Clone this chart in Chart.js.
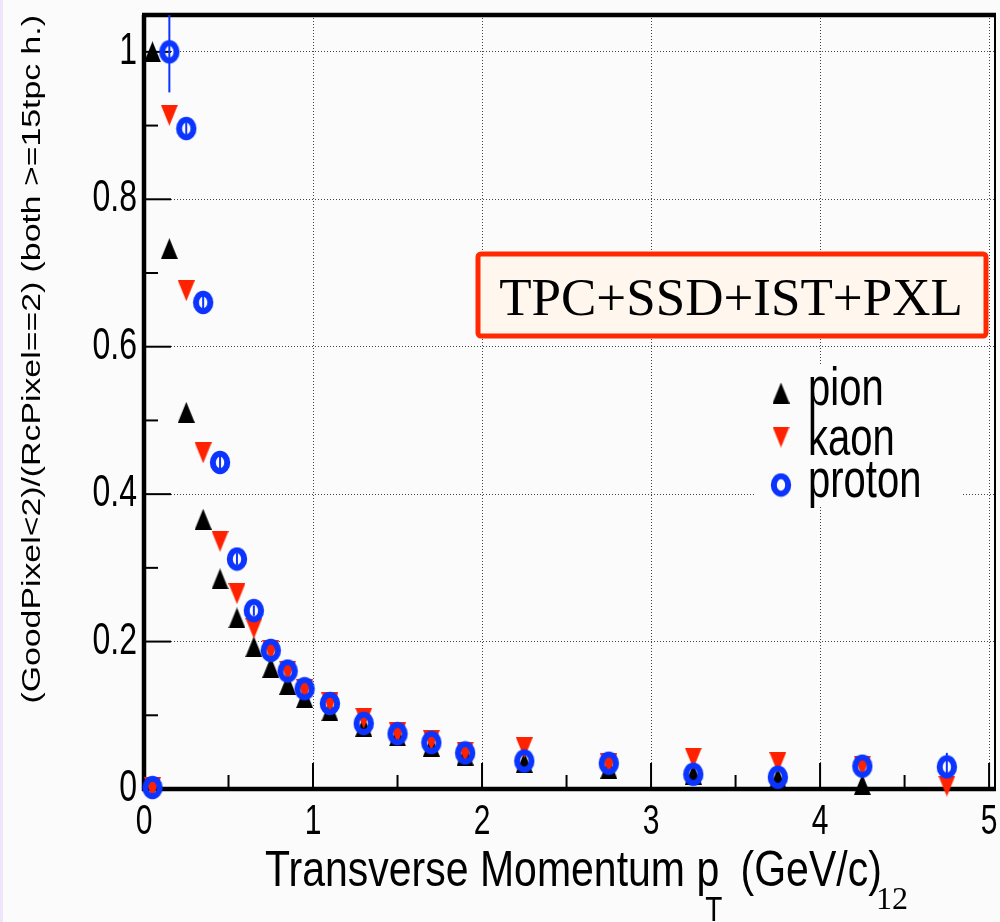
<!DOCTYPE html>
<html>
<head>
<meta charset="utf-8">
<script src="https://cdn.jsdelivr.net/npm/chart.js@4.4.1/dist/chart.umd.min.js"></script>
<style>
  html, body { margin: 0; padding: 0; background: #fbfbfb; }
</style>
</head>
<body>
<canvas id="ratioChart" width="1000" height="922"></canvas>
<script>
// pT bin centres (GeV/c)
const ptBins = [0.05, 0.15, 0.25, 0.35, 0.45, 0.55, 0.65, 0.75, 0.85, 0.95, 1.1, 1.3, 1.5, 1.7, 1.9, 2.25, 2.75, 3.25, 3.75, 4.25, 4.75];

// ratio values
const pionRatio   = [1.0, 0.733, 0.511, 0.366, 0.285, 0.232, 0.193, 0.165, 0.142, 0.124, 0.106, 0.085, 0.072, 0.058, 0.046, 0.036, 0.028, 0.020, 0.015, 0.006, null];
const kaonRatio   = [0.002, 0.914, 0.676, 0.456, 0.336, 0.265, 0.218, 0.188, 0.160, 0.135, 0.117, 0.096, 0.076, 0.066, 0.050, 0.056, 0.034, 0.042, 0.036, 0.031, 0.004];
const protonRatio = [0.002, 1.0, 0.896, 0.660, 0.443, 0.312, 0.242, 0.188, 0.160, 0.136, 0.116, 0.089, 0.075, 0.063, 0.049, 0.038, 0.035, 0.020, 0.016, 0.031, 0.030];
const protonErr   = [0.003, 0.055, 0.008, 0.010, 0.010, 0.008, 0.007, 0.006, 0.005, 0.005, 0.004, 0.004, 0.004, 0.004, 0.004, 0.005, 0.006, 0.008, 0.009, 0.012, 0.019];

// axis ticks
const xTicks = [0, 1, 2, 3, 4, 5];
const xTickLabels = ['0', '1', '2', '3', '4', '5'];
const xMinorTicks = [0.5, 1.5, 2.5, 3.5, 4.5];
const yTicks = [0, 0.2, 0.4, 0.6, 0.8, 1];
const yTickLabels = ['0', '0.2', '0.4', '0.6', '0.8', '1'];
const yMinorTicks = [0.1, 0.3, 0.5, 0.7, 0.9];

const seriesNames = ['pion', 'kaon', 'proton'];
const xTitle = 'Transverse Momentum p';
const xTitleSub = 'T';
const xTitleUnit = ' (GeV/c)';
const yTitle = '(GoodPixel<2)/(RcPixel==2) (both >=15tpc h.)';
const boxLabel = 'TPC+SSD+IST+PXL';
const slideNumber = '12';

const PION = '#000000';
const KAON = '#ff2200';
const PROTON = '#0b35ff';
const BG = '#fbfbfb';

const toPoints = (vals) => ptBins.map((x, i) => ({ x: x, y: vals[i] }));

// markers are a bit taller than wide in the original picture, so use small canvases
function makeMarker(kind, color) {
    const c = document.createElement('canvas');
    const w = kind === 'circle' ? 22 : 17;
    const h = kind === 'circle' ? 25 : 21;
    c.width = w;
    c.height = h;
    const g = c.getContext('2d');
    if (kind === 'circle') {
        g.strokeStyle = color;
        g.lineWidth = 6;
        g.beginPath();
        g.ellipse(w / 2, h / 2, 7.2, 8.8, 0, 0, Math.PI * 2);
        g.stroke();
    } else {
        g.fillStyle = color;
        g.beginPath();
        if (kind === 'up') {
            g.moveTo(w / 2, 0);
            g.lineTo(w, h);
            g.lineTo(0, h);
        } else {
            g.moveTo(0, 0);
            g.lineTo(w, 0);
            g.lineTo(w / 2, h);
        }
        g.closePath();
        g.fill();
    }
    return c;
}

const pionMarker = makeMarker('up', PION);
const kaonMarker = makeMarker('down', KAON);
const protonMarker = makeMarker('circle', PROTON);

// text with the vertical stretch of the original picture
function stretchText(ctx, s, x, y, size, sy, align, baseline, family) {
    ctx.save();
    ctx.translate(x, y);
    ctx.scale(1, sy);
    ctx.font = size + 'px ' + (family || '"Liberation Sans", Arial, sans-serif');
    ctx.textAlign = align;
    ctx.textBaseline = baseline;
    ctx.fillStyle = '#000';
    ctx.fillText(s, 0, 0);
    ctx.restore();
}

const rootStyle = {
    id: 'rootStyle',
    beforeDraw(chart) {
        const ctx = chart.ctx;
        ctx.save();
        ctx.fillStyle = BG;
        ctx.fillRect(0, 0, chart.width, chart.height);
        ctx.fillStyle = '#eee4fb';
        ctx.fillRect(0, 0, 3, chart.height);
        ctx.restore();
    },
    beforeDatasetsDraw(chart) {
        const ctx = chart.ctx;
        const a = chart.chartArea;
        const xs = chart.scales.x, ys = chart.scales.y;
        ctx.save();
        ctx.strokeStyle = '#000';
        ctx.lineWidth = 2;
        const seg = (x1, y1, x2, y2) => { ctx.beginPath(); ctx.moveTo(x1, y1); ctx.lineTo(x2, y2); ctx.stroke(); };
        yMinorTicks.forEach(v => { const p = ys.getPixelForValue(v); seg(a.left, p, a.left + 14, p); });
        yTicks.forEach(v => { const p = ys.getPixelForValue(v); seg(a.left, p, a.left + 27, p); });
        xMinorTicks.forEach(v => { const p = xs.getPixelForValue(v); seg(p, a.bottom, p, a.bottom - 14); });
        xTicks.forEach(v => { const p = xs.getPixelForValue(v); seg(p, a.bottom, p, a.bottom - 26); });

        // frame
        ctx.lineWidth = 2;
        seg(a.right, a.top, a.right, a.bottom);
        ctx.lineWidth = 4.5;
        seg(a.left - 2, a.top, a.right + 1, a.top);
        seg(a.left, a.top, a.left, a.bottom + 2);
        seg(a.left - 2, a.bottom, a.right + 1, a.bottom);

        // tick labels
        yTicks.forEach((v, i) => stretchText(ctx, yTickLabels[i], a.left - 7, ys.getPixelForValue(v), 32, 1.38, 'right', 'middle'));
        xTicks.forEach((v, i) => stretchText(ctx, xTickLabels[i], xs.getPixelForValue(v), a.bottom + 12, 30, 1.4, 'center', 'top'));

        // axis titles
        ctx.font = '41px "Liberation Sans", Arial, sans-serif';
        const w1 = ctx.measureText(xTitle).width;
        const x0 = 265, base = 886;
        stretchText(ctx, xTitle, x0, base, 41, 1.22, 'left', 'alphabetic');
        stretchText(ctx, xTitleSub, x0 + w1 - 14, base + 35, 28, 1.22, 'left', 'alphabetic');
        stretchText(ctx, xTitleUnit, x0 + w1 + 10, base, 41, 1.22, 'left', 'alphabetic');

        ctx.save();
        ctx.translate(40, 15);
        ctx.rotate(-Math.PI / 2);
        ctx.scale(1.3, 1);
        ctx.font = '26px "Liberation Sans", Arial, sans-serif';
        ctx.textAlign = 'right';
        ctx.textBaseline = 'alphabetic';
        ctx.fillStyle = '#000';
        ctx.fillText(yTitle, 0, 0);
        ctx.restore();

        // proton error bars
        ctx.save();
        ctx.beginPath();
        ctx.rect(a.left, a.top, a.right - a.left, a.bottom - a.top + 10);
        ctx.clip();
        ctx.strokeStyle = PROTON;
        ctx.lineWidth = 2;
        ptBins.forEach((x, i) => {
            const px = xs.getPixelForValue(x);
            seg(px, ys.getPixelForValue(protonRatio[i] - protonErr[i]), px, ys.getPixelForValue(protonRatio[i] + protonErr[i]));
        });
        ctx.restore();
        ctx.restore();
    },
    afterDatasetsDraw(chart) {
        const ctx = chart.ctx;
        ctx.save();
        // detector label box
        ctx.fillStyle = '#fff7ee';
        ctx.strokeStyle = '#ff2a00';
        ctx.lineWidth = 5;
        ctx.beginPath();
        ctx.roundRect(478, 254, 508, 82, 3);
        ctx.fill();
        ctx.stroke();
        ctx.fillStyle = '#000';
        ctx.font = '53px "Liberation Serif", "Times New Roman", serif';
        ctx.textAlign = 'center';
        ctx.textBaseline = 'alphabetic';
        ctx.fillText(boxLabel, 731, 315);

        // legend
        ctx.fillStyle = BG;
        ctx.fillRect(755, 364, 207, 143);
        const markers = [pionMarker, kaonMarker, protonMarker];
        const rows = [393, 437, 485];
        markers.forEach((m, i) => ctx.drawImage(m, 781 - m.width / 2, rows[i] - m.height / 2));
        stretchText(ctx, seriesNames[0], 808, 405, 40, 1.32, 'left', 'alphabetic');
        stretchText(ctx, seriesNames[1], 808, 455, 40, 1.32, 'left', 'alphabetic');
        stretchText(ctx, seriesNames[2], 808, 497, 40, 1.32, 'left', 'alphabetic');

        // slide number
        ctx.fillStyle = '#000';
        ctx.font = '32px "Liberation Serif", "Times New Roman", serif';
        ctx.textAlign = 'left';
        ctx.fillText(slideNumber, 876, 909);
        ctx.restore();
    }
};

const ctx = document.getElementById('ratioChart');
new Chart(ctx, {
    type: 'scatter',
    data: {
        datasets: [
            {
                label: seriesNames[0],
                data: toPoints(pionRatio),
                pointStyle: pionMarker,
                order: 3,
                clip: false
            },
            {
                label: seriesNames[1],
                data: toPoints(kaonRatio),
                pointStyle: kaonMarker,
                order: 2,
                clip: false
            },
            {
                label: seriesNames[2],
                data: toPoints(protonRatio),
                pointStyle: protonMarker,
                order: 1,
                clip: false
            }
        ]
    },
    options: {
        responsive: false,
        animation: false,
        devicePixelRatio: 1,
        events: [],
        layout: { padding: { left: 0, top: 15, right: 3, bottom: 0 } },
        plugins: { legend: { display: false }, tooltip: { enabled: false } },
        scales: {
            x: {
                type: 'linear',
                min: 0,
                max: 5.035,
                afterFit: (s) => { s.height = 133; },
                ticks: { display: false, stepSize: 1, includeBounds: false },
                grid: { color: '#444', lineWidth: 1, drawTicks: false },
                border: { display: false, dash: [1, 2] }
            },
            y: {
                type: 'linear',
                min: 0,
                max: 1.05,
                afterFit: (s) => { s.width = 144; },
                ticks: { display: false, stepSize: 0.2, includeBounds: false },
                grid: { color: '#444', lineWidth: 1, drawTicks: false },
                border: { display: false, dash: [1, 2] }
            }
        }
    },
    plugins: [rootStyle]
});
</script>
</body>
</html>
